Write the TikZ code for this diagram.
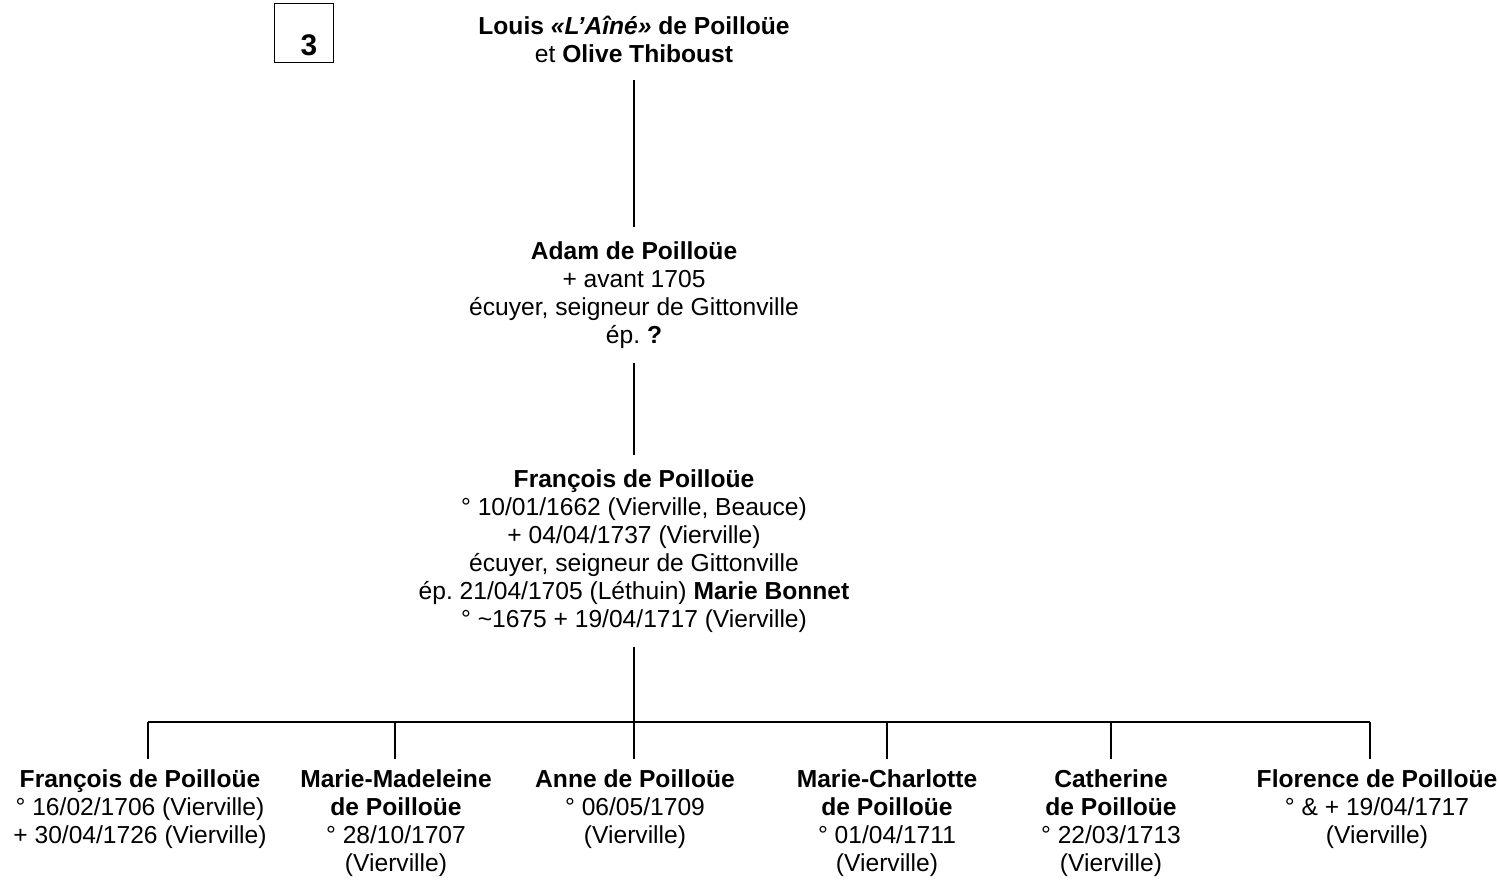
\documentclass[tikz,border=0pt]{standalone}
\usepackage{fontspec}
\setmainfont{Liberation Sans}
\usetikzlibrary{positioning}
\frenchspacing

\begin{document}
\begin{tikzpicture}[x=0.02cm,y=-0.02cm]
        \useasboundingbox (0,0) rectangle (1499,880);
        % numbered box
        \node[draw,line width=0.6pt,minimum width=1.18cm,minimum height=1.18cm,inner sep=0pt] (box) at (304,33) {};
        \node[font=\fontsize{17}{20}\selectfont\bfseries] (num) at (309,45) {3};
        \begin{scope}[every node/.style={align=center,inner sep=0pt,outer sep=0.3cm,font=\fontsize{14}{15.9}\selectfont}]
          \node[outer sep=0.36cm] (parents) at (634,39) {\textbf{Louis \textit{«L’Aîné»} de Poilloüe}\\et \textbf{Olive Thiboust}};
          \node (adam) at (634,295) {\textbf{Adam de Poilloüe}\\+ avant 1705\\écuyer, seigneur de Gittonville\\ép. \textbf{?}};
          \node (francois) at (634,551) {\textbf{François de Poilloüe}\\° 10/01/1662 (Vierville, Beauce)\\+ 04/04/1737 (Vierville)\\écuyer, seigneur de Gittonville\\ép. 21/04/1705 (Léthuin) \textbf{Marie Bonnet}\\° \textasciitilde1675 + 19/04/1717 (Vierville)};
        \end{scope}
        \begin{scope}[every node/.style={align=center,inner sep=0pt,outer sep=0.22cm,anchor=north,font=\fontsize{14}{15.9}\selectfont}]
          \node (k1) at (140,759) {\textbf{François de Poilloüe}\\° 16/02/1706 (Vierville)\\+ 30/04/1726 (Vierville)};
          \node (k2) at (396,759) {\textbf{Marie-Madeleine}\\\textbf{de Poilloüe}\\° 28/10/1707\\(Vierville)};
          \node (k3) at (635,759) {\textbf{Anne de Poilloüe}\\° 06/05/1709\\(Vierville)};
          \node (k4) at (887,759) {\textbf{Marie-Charlotte}\\\textbf{de Poilloüe}\\° 01/04/1711\\(Vierville)};
          \node (k5) at (1111,759) {\textbf{Catherine}\\\textbf{de Poilloüe}\\° 22/03/1713\\(Vierville)};
          \node (k6) at (1377,759) {\textbf{Florence de Poilloüe}\\° \& + 19/04/1717\\(Vierville)};
        \end{scope}
        % fork points on the bar
        \coordinate (fork) at (634,722);
        \foreach \x/\k in {148/k1,395/k2,634/k3,887/k4,1111/k5,1370/k6}
          \coordinate (s\k) at (\x,722);
        \begin{scope}[every edge/.style={draw=black,line width=1.15pt}]
          \path (parents.south) edge (adam.north);
          \path (adam.south) edge (francois.north);
          \path (francois.south) edge (fork);
          \path (sk1) edge (sk6);
          \foreach \k in {k1,k2,k3,k4,k5,k6}
            \path (s\k) edge (s\k |- \k.north);
        \end{scope}
      \end{tikzpicture}
\end{document}
